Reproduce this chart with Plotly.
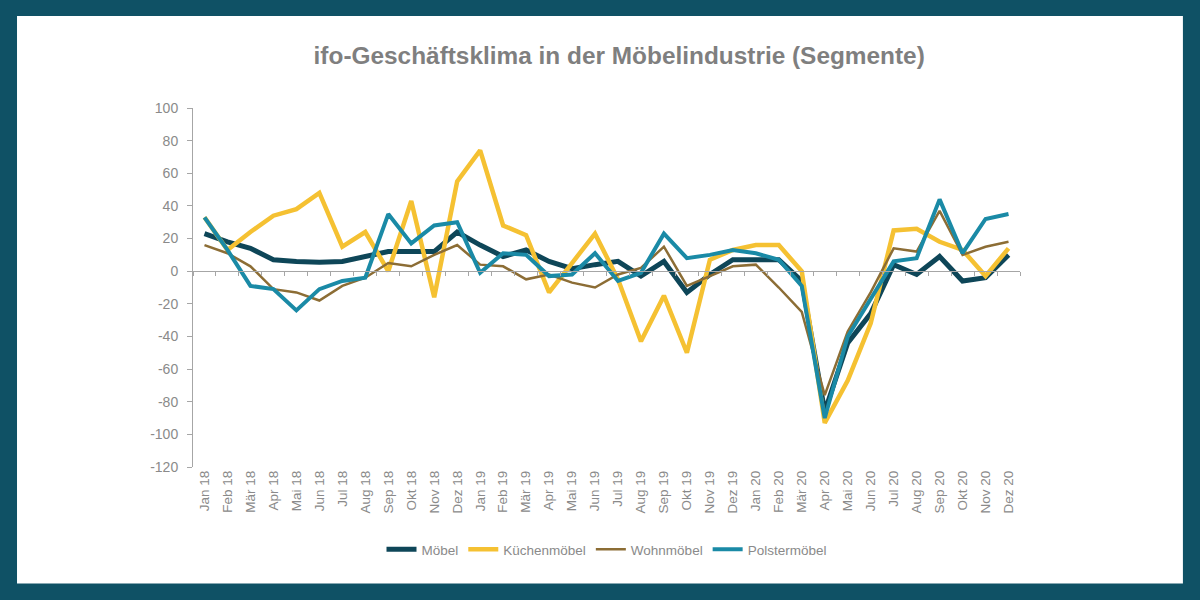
import plotly.graph_objects as go

# =============================================================================
# Data
# =============================================================================
monate = ["Jan", "Feb", "Mär", "Apr", "Mai", "Jun",
          "Jul", "Aug", "Sep", "Okt", "Nov", "Dez"]
jahre = ["18", "19", "20"]
kategorien = [m + " " + j for j in jahre for m in monate]

moebel = [23, 18, 14, 7, 6, 5.5, 6, 9, 12, 12, 12, 24,
          16, 9, 13, 6, 1.5, 4, 6, -3, 6, -13, -2, 7,
          7, 7, -6, -86, -44, -26, 4, -2, 9, -6, -4, 10]
kuechenmoebel = [33, 13, 24, 34, 38, 48, 15, 24, 0, 43, -16, 55,
                 74, 28, 22, -13, 5, 23, -5, -43, -15, -50, 7, 13,
                 16, 16, 0, -93, -67, -32, 25, 26, 18, 13, -3, 14]
wohnmoebel = [16, 11, 3, -11, -13, -18, -9, -4, 5, 3, 10, 16,
              4, 3, -5, -2, -7, -10, -2, 2, 15, -9, -3, 3,
              4, -10, -25, -76, -37, -13, 14, 12, 37, 10, 15, 18]
polstermoebel = [33, 13, -9, -11, -24, -11, -6, -4, 35, 17, 28, 30,
                 -1, 11, 10, -3, -2, 11, -6, -1, 23, 8, 10, 13,
                 11, 7, -9, -90, -40, -17, 6, 8, 44, 11, 32, 35]

y_ticks = list(range(-120, 101, 20))

# =============================================================================
# Styles
# =============================================================================
grau = "#8a8a8a"
rahmen = "#0f5165"
schrift = "Liberation Sans, Arial, sans-serif"

serien = [
    ("Möbel", moebel, "#0e4658", 5),
    ("Küchenmöbel", kuechenmoebel, "#f5c132", 4.5),
    ("Wohnmöbel", wohnmoebel, "#8c6d35", 2.5),
    ("Polstermöbel", polstermoebel, "#1a8aa6", 4),
]

fig = go.Figure()
for name, werte, farbe, breite in serien:
    fig.add_scatter(x=kategorien, y=werte, mode="lines", name=name,
                    line=dict(color=farbe, width=breite))

# leere Spur auf xaxis2, damit die Nulllinie mit Teilstrichen erscheint
fig.add_scatter(x=kategorien, y=[None] * len(kategorien), xaxis="x2",
                showlegend=False, hoverinfo="skip")

fig.update_layout(
    width=1200, height=600,
    paper_bgcolor=rahmen,
    plot_bgcolor="white",
    margin=dict(l=193, r=180, t=108, b=133),
    font=dict(family=schrift, color=grau, size=14),
    title=dict(text="<b>ifo-Geschäftsklima in der Möbelindustrie (Segmente)</b>",
               x=0.516, xref="container", xanchor="center",
               y=0.908, yanchor="middle",
               font=dict(size=24.4, color="#7f7f7f", family=schrift)),
    showlegend=True,
    legend=dict(orientation="h", x=0.5, xanchor="center",
                y=-0.23, yanchor="middle",
                font=dict(size=13.5, color=grau), bgcolor="rgba(0,0,0,0)",
                traceorder="normal", itemwidth=30),
    shapes=[dict(type="rect", xref="paper", yref="paper", layer="below",
                 x0=-0.2128, x1=1.197, y0=-0.3246, y1=1.2566,
                 fillcolor="white", line=dict(width=0))],
    xaxis=dict(type="category", showgrid=False, zeroline=False,
               showline=False, ticks="", tickangle=-90,
               tickfont=dict(size=13.5, color=grau),
               range=[-0.5, len(kategorien) - 0.5]),
    xaxis2=dict(type="category", overlaying="x", matches="x",
                anchor="free", position=120 / 220, side="bottom",
                showline=True, linecolor="#a6a6a6", linewidth=1,
                ticks="outside", ticklen=4, tickcolor="#a6a6a6",
                tickson="boundaries", showticklabels=False,
                showgrid=False, zeroline=False),
    yaxis=dict(range=[-120, 100], tickvals=y_ticks,
               ticktext=[str(v) for v in y_ticks],
               showgrid=False, zeroline=False,
               showline=True, linecolor="#a6a6a6", linewidth=1,
               ticks="outside", ticklen=5, tickcolor="#a6a6a6",
               ticklabelstandoff=6,
               tickfont=dict(size=14, color=grau)),
)

fig.write_html("out.html", config={"displayModeBar": False},
               post_script="document.body.style.margin='0';")
